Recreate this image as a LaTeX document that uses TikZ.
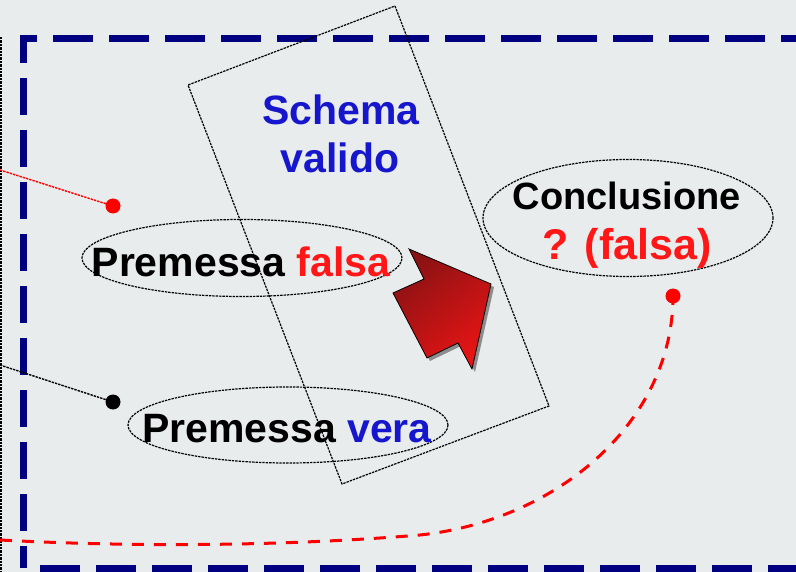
\documentclass[tikz,border=0pt]{standalone}
\usepackage{fontspec}
\setmainfont{Liberation Sans}
\usetikzlibrary{shapes.geometric}
\definecolor{bgc}{RGB}{233,236,237}
\definecolor{navy}{RGB}{0,0,128}
\definecolor{tred}{RGB}{255,22,22}
\definecolor{tblue}{RGB}{22,22,205}
\definecolor{adark}{RGB}{138,18,20}
\definecolor{alight}{RGB}{230,20,20}
\tikzset{
  finedot/.style={line width=1.2pt, dash pattern=on 2.4pt off 1pt},
  ell/.style={ellipse, draw, finedot, inner sep=0pt},
  lbl/.style={font=\bfseries\fontsize{41}{49}\selectfont, anchor=base, inner sep=0pt},
  dotn/.style={circle, inner sep=0pt, minimum size=15pt},
  framel/.style={navy, line width=7pt},
}
\begin{document}
\begin{tikzpicture}[x=1pt,y=-1pt]
\useasboundingbox (0,0) rectangle (796,572);
\clip (0,0) rectangle (796,572);
\fill[bgc] (0,0) rectangle (796,572);

% thin dotted edge of an outside shape
\coordinate (e1) at (1,37);
\coordinate (e2) at (1,575);
\draw[finedot] (e1) -- (e2);

% dashed navy frame
\draw[framel, dash pattern=on 40pt off 16pt, dash phase=23pt] (20,39) -- (830,39);
\draw[framel, dash pattern=on 37pt off 15pt, dash phase=9pt] (23,35) -- (23,568);
\draw[framel, dash pattern=on 40pt off 16pt] (40,568) -- (830,568);

% tilted rectangle
\draw[finedot] (395,6) -- (549,406) -- (342,484) -- (188,85) -- cycle;

% ellipses
\node[ell, minimum width=320pt, minimum height=77pt] (pf) at (242,258) {};
\node[ell, minimum width=320pt, minimum height=76pt] (pv) at (288,425) {};
\node[ell, minimum width=290pt, minimum height=117pt] (cc) at (628,218) {};

% texts
\node[lbl, text=tblue] (s1) at (341,125) {Schema};
\node[lbl, text=tblue] (s2) at (340,173) {valido};
\node[lbl] (tpf) at (241,277) {Premessa \textcolor{tred}{falsa}};
\node[lbl] (tpv) at (287,442) {Premessa \textcolor{tblue}{vera}};
\node[lbl, font=\bfseries\fontsize{38}{46}\selectfont] (tc1) at (627,210) {Conclusione};
\node[lbl, text=tred, font=\bfseries\fontsize{43}{50}\selectfont] (tc2) at (627,260) {? (falsa)};

% block arrow
\fill[black!45] (396,296) -- (427,282) -- (412,252) -- (494,287) -- (475,372) -- (461,346) -- (430,361) -- cycle;
\shade[draw=black, line width=0.8pt, top color=adark, bottom color=alight, shading angle=40]
  (393,293) -- (424,279) -- (409,249) -- (491,284) -- (472,369) -- (458,343) -- (427,358) -- cycle;

% connectors
\node[dotn, fill=red] (d1) at (113,206) {};
\node[dotn, fill=black] (d2) at (113,402) {};
\node[dotn, fill=red] (d3) at (673,296) {};
\coordinate (c1) at (0,170);
\coordinate (c2) at (0,365);
\coordinate (c3) at (0,540);
\draw[red, line width=1.4pt, dash pattern=on 2.4pt off 1pt] (c1) -- (d1.center);
\draw[black, line width=1.4pt, dash pattern=on 2.4pt off 1pt] (c2) -- (d2.center);
\draw[red, line width=3pt, dash pattern=on 12pt off 10pt]
  (c3) .. controls (150,548) and (300,545) .. (420,535)
       .. controls (560,520) and (673,420) .. (d3.center);
\end{tikzpicture}
\end{document}
